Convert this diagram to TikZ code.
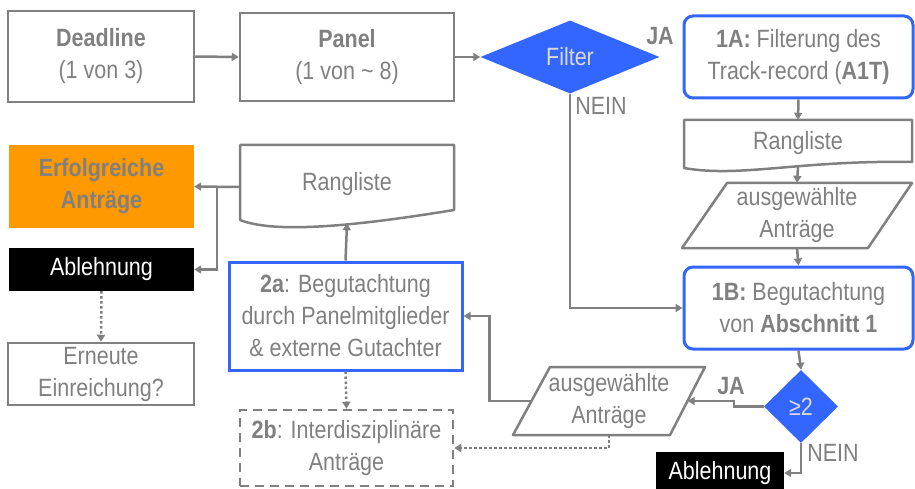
\documentclass[tikz,border=0pt]{standalone}
\usepackage{fontspec}
\setmainfont{Liberation Sans}[FakeStretch=0.86]
\usetikzlibrary{arrows.meta,shapes.geometric}
\definecolor{gr}{HTML}{808080}
\definecolor{bl}{HTML}{3366FF}
\definecolor{orng}{HTML}{FF9900}
\definecolor{lt}{HTML}{D9D9D9}
\begin{document}
\begin{tikzpicture}[x=1pt,y=-1pt,
  font=\fontsize{25}{32}\selectfont,
  base/.style={align=center, inner sep=0pt, text=gr},
  gbox/.style={base, draw=gr, line width=2.5pt},
  bbox/.style={base, draw=bl, line width=3pt},
  rbox/.style={bbox, rounded corners=9pt},
  dec/.style={base, diamond, fill=bl, text=lt},
  blk/.style={base, fill=black, text=white},
  txt/.style={base},
  outl/.style={draw=gr, line width=2.5pt, line join=round},
  conn/.style={draw=gr, line width=2.5pt, -{Triangle[length=7pt,width=8pt]}},
  dotc/.style={conn, dash pattern=on 2.5pt off 2.5pt}]
\useasboundingbox (0,0) rectangle (915,489);

% shapes drawn directly (outlines)
\draw[outl] (684,168) -- (684,120) -- (912,120) -- (912,162) .. controls (800,160) and (740,178) .. cycle;
\draw[outl] (240,220) -- (240,145) -- (454,145) -- (454,210) .. controls (380,222) and (280,236) .. cycle;
\draw[outl] (682,248) -- (727,183) -- (912,183) -- (868,248) -- cycle;
\draw[outl] (513,435) -- (550,367) -- (705,367) -- (670,435) -- cycle;

% nodes
\node[gbox, minimum width=186pt, minimum height=91pt] (dl) at (101,56.5) {\textbf{Deadline}\\(1 von 3)};
\node[gbox, minimum width=214pt, minimum height=88pt] (pan) at (347,57) {\textbf{Panel}\\(1 von \textasciitilde{} 8)};
\node[dec, minimum width=179pt, minimum height=73pt] (flt) at (570,57) {Filter};
\node[txt, font=\fontsize{25}{32}\selectfont\bfseries] (ja1) at (660,36) {JA};
\node[txt] (nein1) at (601,106) {NEIN};
\node[rbox, minimum width=229pt, minimum height=82pt] (a1) at (798.5,57) {\textbf{1A:} Filterung des\\Track-record (\textbf{A1T)}};
\node[txt, minimum width=229pt, minimum height=47pt] (rlr) at (798,143.5) {Rangliste};
\node[txt, minimum width=230pt, minimum height=65pt] (parar) at (797,215.5) {ausgewählte\\Anträge};
\node[rbox, minimum width=229pt, minimum height=82pt] (b1) at (798.5,308) {\textbf{1B:} Begutachtung\\von \textbf{Abschnitt 1}};
\node[dec, minimum width=74pt, minimum height=73pt] (ge) at (801,406.5) {≥2};
\node[txt, font=\fontsize{25}{32}\selectfont\bfseries] (ja2) at (731,386) {JA};
\node[txt] (nein2) at (833,453) {NEIN};
\node[blk, minimum width=128pt, minimum height=42pt] (ablr) at (720,473) {Ablehnung};
\node[txt, minimum width=192pt, minimum height=68pt] (pm) at (609,401) {ausgewählte\\Anträge};
\node[bbox, minimum width=233pt, minimum height=108pt] (a2) at (345.5,316) {\textbf{2a}: Begutachtung\\durch Panelmitglieder\\\& externe Gutachter};
\node[gbox, dash pattern=on 9pt off 6pt, minimum width=213pt, minimum height=76pt] (b2) at (346.5,448) {\textbf{2b}: Interdisziplinäre\\Anträge};
\node[txt, minimum width=214pt, minimum height=78pt] (rll) at (347,184) {Rangliste};
\node[base, fill=orng, minimum width=185pt, minimum height=83pt, font=\fontsize{25}{32}\selectfont\bfseries] (erf) at (101.5,186.5) {Erfolgreiche\\Anträge};
\node[blk, minimum width=185pt, minimum height=43pt] (abll) at (101.5,269.5) {Ablehnung};
\node[gbox, minimum width=186pt, minimum height=62pt] (ern) at (101,374) {Erneute\\Einreichung?};

% connectors
\draw[conn] (dl.east) -- (pan.west);
\draw[conn] (pan.east) -- (flt.west);
\draw[conn] (flt.south) |- (b1.west);
\draw[conn] (a1.south) -- (rlr.north);
\draw[conn] (rlr.south) -- (parar.north);
\draw[conn] (parar.south) -- (b1.north);
\draw[conn] (b1.south) -- (ge.north);
\draw[conn] (ge.west) -- ++(-30,0) |- ([xshift=-17.5pt]pm.east);
\draw[conn] (ge.south) |- (ablr.east);
\draw[conn] ([xshift=18.5pt]pm.west) -- ++(-42,0) |- (a2.east);
\draw[dotc] (pm.south) |- (b2.east);
\draw[conn] (a2.north) -- (rll.south);
\draw[conn] ([yshift=-3pt]rll.west) -- (erf.east);
\draw[conn] ([yshift=-3pt,xshift=-23pt]rll.west) |- (abll.east);
\draw[dotc] (abll.south) -- (ern.north);
\draw[dotc] (a2.south) -- (b2.north);
\end{tikzpicture}
\end{document}
